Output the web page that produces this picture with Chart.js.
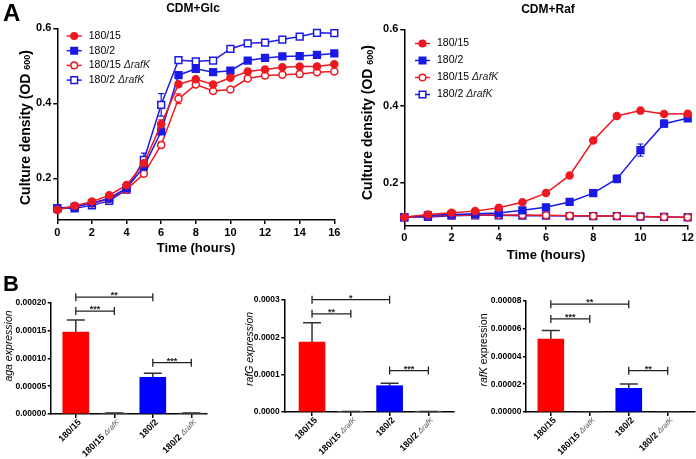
<!DOCTYPE html>
<html>
<head>
<meta charset="utf-8">
<script src="https://cdn.jsdelivr.net/npm/chart.js@4.4.0/dist/chart.umd.min.js"></script>
<style>
    html, body { margin: 0; padding: 0; background: #fff; }
    #wrap { position: relative; width: 696px; height: 459px; overflow: hidden; }
    canvas { position: absolute; left: 0; top: 0; }
</style>
</head>
<body>
<div id="wrap">
    <canvas id="glc" width="696" height="459"></canvas>
    <canvas id="raf" width="696" height="459"></canvas>
    <canvas id="aga" width="696" height="459"></canvas>
    <canvas id="rafG" width="696" height="459"></canvas>
    <canvas id="rafK" width="696" height="459"></canvas>
</div>
<script>
const strains = ['180/15', '180/2', '180/15 ΔrafK', '180/2 ΔrafK']
const barLabels = ['180/15', '180/15 ΔrafK', '180/2', '180/2 ΔrafK']

// growth curves, CDM + glucose (OD600 per hour)
const hoursGlc = [0, 1, 2, 3, 4, 5, 6, 7, 8, 9, 10, 11, 12, 13, 14, 15, 16]
const glc15 = [0.116, 0.127, 0.138, 0.155, 0.182, 0.240, 0.344, 0.451, 0.464, 0.450, 0.468, 0.485, 0.490, 0.496, 0.498, 0.498, 0.504]
const glc2 = [0.120, 0.124, 0.134, 0.147, 0.174, 0.231, 0.325, 0.475, 0.492, 0.483, 0.487, 0.514, 0.521, 0.525, 0.526, 0.529, 0.533]
const glc15d = [0.118, 0.124, 0.133, 0.145, 0.170, 0.212, 0.289, 0.412, 0.450, 0.433, 0.437, 0.466, 0.474, 0.476, 0.478, 0.483, 0.485]
const glc2d = [0.120, 0.120, 0.128, 0.140, 0.170, 0.249, 0.396, 0.515, 0.512, 0.514, 0.545, 0.560, 0.562, 0.570, 0.578, 0.588, 0.587]
const glc15Err = [0.003, 0.002, 0.002, 0.003, 0.003, 0.005, 0.012, 0.005, 0.004, 0.004, 0.004, 0.004, 0.004, 0.003, 0.003, 0.003, 0.004]
const glc2Err = [0.002, 0.002, 0.002, 0.003, 0.003, 0.005, 0.006, 0.004, 0.003, 0.003, 0.003, 0.003, 0.003, 0.003, 0.003, 0.003, 0.003]
const glc15dErr = [0.002, 0.002, 0.002, 0.003, 0.003, 0.005, 0.008, 0.013, 0.004, 0.004, 0.004, 0.005, 0.006, 0.005, 0.008, 0.004, 0.005]
const glc2dErr = [0.003, 0.002, 0.002, 0.003, 0.004, 0.018, 0.030, 0.005, 0.004, 0.005, 0.008, 0.008, 0.004, 0.004, 0.004, 0.004, 0.004]

// growth curves, CDM + raffinose
const hoursRaf = [0, 1, 2, 3, 4, 5, 6, 7, 8, 9, 10, 11, 12]
const raf15 = [0.110, 0.117, 0.122, 0.126, 0.135, 0.149, 0.173, 0.219, 0.310, 0.374, 0.388, 0.379, 0.380]
const raf2 = [0.110, 0.115, 0.117, 0.119, 0.121, 0.128, 0.136, 0.150, 0.173, 0.210, 0.285, 0.354, 0.368]
const raf15d = [0.110, 0.113, 0.115, 0.116, 0.116, 0.116, 0.115, 0.114, 0.113, 0.113, 0.112, 0.111, 0.110]
const raf2d = [0.110, 0.111, 0.114, 0.115, 0.115, 0.114, 0.114, 0.113, 0.113, 0.113, 0.112, 0.111, 0.110]
const raf15Err = [0.002, 0.002, 0.002, 0.002, 0.002, 0.003, 0.003, 0.004, 0.004, 0.004, 0.004, 0.004, 0.004]
const raf2Err = [0.002, 0.002, 0.002, 0.002, 0.002, 0.003, 0.003, 0.003, 0.004, 0.010, 0.016, 0.009, 0.005]
const raf15dErr = [0.002, 0.002, 0.002, 0.002, 0.002, 0.002, 0.002, 0.002, 0.002, 0.002, 0.002, 0.002, 0.002]
const raf2dErr = [0.002, 0.002, 0.002, 0.002, 0.002, 0.002, 0.002, 0.002, 0.002, 0.002, 0.002, 0.002, 0.002]
const odTicks = [0.2, 0.4, 0.6]

// expression (panel B), order as in barLabels
const agaMean = [0.000147, 0.0000015, 0.000066, 0.0000015]
const agaErr = [0.000022, 0.0000005, 0.0000072, 0.0000005]
const agaTicks = [0, 0.00005, 0.0001, 0.00015, 0.0002]
const agaSig = [[0, 1, 0.000185, '***'], [0, 2, 0.00021, '**'], [2, 3, 0.0000923, '***']]

const rafGMean = [0.000187, 0.0000012, 0.0000705, 0.0000012]
const rafGErr = [0.000052, 0.0000004, 0.0000065, 0.0000004]
const rafGTicks = [0, 0.0001, 0.0002, 0.0003]
const rafGSig = [[0, 1, 0.000263, '**'], [0, 2, 0.000301, '*'], [2, 3, 0.000111, '***']]

const rafKMean = [0.0000525, 0, 0.000017, 0]
const rafKErr = [0.000006, 0, 0.0000031, 0]
const rafKTicks = [0, 0.00002, 0.00004, 0.00006, 0.00008]
const rafKSig = [[0, 1, 0.0000669, '***'], [0, 2, 0.0000775, '**'], [2, 3, 0.0000297, '**']]

const RED = 'rgb(238, 24, 32)'
const BLUE = 'rgb(26, 26, 232)'
const lineColors = [RED, BLUE, RED, BLUE]
const markers = ['circle', 'rect', 'circle', 'rect']
const barColors = ['rgb(255, 0, 0)', '#555', 'rgb(0, 0, 255)', '#555']

const FONT = '"Liberation Sans", Arial, Helvetica, sans-serif'
const f = (size, style) => `${style || ''} ${size}px ${FONT}`

// text with mixed fonts: parts = [[text, font, dy, color]]
function rich(ctx, parts, x, y, align) {
    let w = 0
    parts.forEach(p => { ctx.font = p[1]; w += ctx.measureText(p[0]).width })
    let cx = align === 'center' ? x - w / 2 : align === 'right' ? x - w : x
    ctx.textAlign = 'left'
    parts.forEach(p => {
        ctx.font = p[1]
        ctx.fillStyle = p[3] || '#000'
        ctx.fillText(p[0], cx, y + (p[2] || 0))
        cx += ctx.measureText(p[0]).width
    })
}

function strainParts(name, base, ital, color) {
    const i = name.indexOf('Δ')
    if (i < 0) return [[name, base]]
    return [[name.slice(0, i), base], [name.slice(i), ital, 0, color]]
}

const extras = {}

const decoPlugin = {
    id: 'deco',
    beforeDatasetsDraw(chart) {
        const ex = extras[chart.canvas.id]
        if (!ex || !ex.errs) return
        const ctx = chart.ctx, ys = chart.scales.y
        ctx.save()
        ex.errs.forEach((err, d) => {
            const meta = chart.getDatasetMeta(d)
            ctx.strokeStyle = lineColors[d]
            ctx.lineWidth = 1.2
            meta.data.forEach((pt, i) => {
                const v = chart.data.datasets[d].data[i].y
                const y1 = ys.getPixelForValue(v + err[i]), y2 = ys.getPixelForValue(v - err[i])
                ctx.beginPath()
                ctx.moveTo(pt.x, y1); ctx.lineTo(pt.x, y2)
                ctx.moveTo(pt.x - 3, y1); ctx.lineTo(pt.x + 3, y1)
                ctx.moveTo(pt.x - 3, y2); ctx.lineTo(pt.x + 3, y2)
                ctx.stroke()
            })
        })
        ctx.restore()
    },
    afterDraw(chart) {
        const ex = extras[chart.canvas.id]
        if (!ex) return
        const ctx = chart.ctx
        ctx.save()
        ctx.textBaseline = 'middle'
        const xs = chart.scales.x, ys = chart.scales.y

        if (ex.barErr) {
            ctx.strokeStyle = '#333'
            ctx.lineWidth = 1.5
            ex.barErr.forEach((e, i) => {
                if (!e) return
                const x = xs.getPixelForValue(i)
                const y0 = ys.getPixelForValue(ex.mean[i]), y1 = ys.getPixelForValue(ex.mean[i] + e)
                ctx.beginPath()
                ctx.moveTo(x, y0); ctx.lineTo(x, y1)
                ctx.moveTo(x - 9, y1); ctx.lineTo(x + 9, y1)
                ctx.stroke()
            })
        }

        if (ex.sig) {
            ctx.strokeStyle = '#222'
            ctx.lineWidth = 1.3
            ex.sig.forEach(s => {
                const x1 = xs.getPixelForValue(s[0]), x2 = xs.getPixelForValue(s[1])
                const y = ys.getPixelForValue(s[2])
                ctx.beginPath()
                ctx.moveTo(x1, y); ctx.lineTo(x2, y)
                ctx.moveTo(x1, y - 4); ctx.lineTo(x1, y + 4)
                ctx.moveTo(x2, y - 4); ctx.lineTo(x2, y + 4)
                ctx.stroke()
                ctx.textBaseline = 'alphabetic'
                rich(ctx, [[s[3], f(9, 'bold'), 0, '#222']], (x1 + x2) / 2, y + 1, 'center')
                ctx.textBaseline = 'middle'
            })
        }

        if (ex.xLabels) {
            barLabels.forEach((name, i) => {
                const x = xs.getPixelForValue(i)
                ctx.save()
                ctx.translate(x + 4, chart.chartArea.bottom + 7)
                ctx.rotate(-Math.PI / 4)
                rich(ctx, strainParts(name, f(9, 'bold'), f(7.5, 'italic'), '#555'), 0, 0, 'right')
                ctx.restore()
            })
        }

        if (ex.legend) {
            const lg = ex.legend
            chart.data.datasets.forEach((ds, d) => {
                const y = lg.y + d * lg.dy
                const cx = lg.x + 7.5
                ctx.strokeStyle = lineColors[d]
                ctx.lineWidth = 1.5
                ctx.beginPath()
                ctx.moveTo(lg.x, y); ctx.lineTo(lg.x + 15, y)
                ctx.stroke()
                ctx.beginPath()
                if (markers[d] === 'circle') ctx.arc(cx, y, 3.3, 0, Math.PI * 2)
                else ctx.rect(cx - 3.3, y - 3.3, 6.6, 6.6)
                ctx.fillStyle = d < 2 ? lineColors[d] : '#fff'
                ctx.fill()
                ctx.stroke()
                rich(ctx, strainParts(ds.label, f(10.5), f(10.5, 'italic'), '#222'), lg.x + 22, y, 'left')
            })
        }

        (ex.texts || []).forEach(t => {
            ctx.save()
            ctx.translate(t.x, t.y)
            if (t.rot) ctx.rotate(-Math.PI / 2)
            rich(ctx, t.parts, 0, 0, t.align)
            ctx.restore()
        })
        ctx.restore()
    }
}
Chart.register(decoPlugin)

const axisLine = { color: '#000', width: 1.5 }
const axisGrid = { offset: false, drawOnChartArea: false, drawTicks: true, tickLength: 4, color: '#000', lineWidth: 1.5 }

// area = [left, top, right, bottom] of the plot box on the page
function growthChart(id, hours, series, xMax, yMin, area) {
    return new Chart(document.getElementById(id), {
        type: 'line',
        data: {
            datasets: series.map((s, d) => ({
                label: strains[d],
                data: hours.map((h, i) => ({ x: h, y: s[i] })),
                borderColor: lineColors[d],
                backgroundColor: lineColors[d],
                borderWidth: 1.5,
                pointStyle: markers[d],
                pointRadius: markers[d] === 'rect' ? 4.8 : 3.5,
                pointBorderWidth: 1.5,
                pointBackgroundColor: d < 2 ? lineColors[d] : '#fff',
                pointBorderColor: lineColors[d],
                tension: 0,
                clip: false,
            })),
        },
        options: {
            responsive: false,
            animation: false,
            devicePixelRatio: 1,
            layout: { padding: { left: area[0] - 50, top: area[1], right: 696 - area[2], bottom: 459 - area[3] - 22 } },
            plugins: { legend: { display: false }, tooltip: { enabled: false } },
            scales: {
                x: {
                    type: 'linear', min: 0, max: xMax, offset: false,
                    border: axisLine, grid: axisGrid,
                    ticks: { stepSize: 2, autoSkip: false, maxRotation: 0, padding: 2, color: '#000', font: { family: FONT, size: 11, weight: 'bold' } },
                    afterFit: s => { s.height = 22 },
                },
                y: {
                    min: yMin, max: 0.6,
                    border: axisLine, grid: axisGrid,
                    afterBuildTicks: s => { s.ticks = odTicks.map(v => ({ value: v })) },
                    ticks: { padding: 2, color: '#000', font: { family: FONT, size: 11, weight: 'bold' }, callback: v => v.toFixed(1) },
                    afterFit: s => { s.width = 50 },
                },
            },
        },
    })
}

function exprChart(id, mean, yTicks, digits, xMin, xMax, area) {
    return new Chart(document.getElementById(id), {
        type: 'bar',
        data: {
            datasets: [{
                data: mean.map((v, i) => ({ x: i, y: v })),
                backgroundColor: barColors,
                borderColor: barColors,
                borderWidth: 0,
                barThickness: 26,
                clip: false,
            }],
        },
        options: {
            responsive: false,
            animation: false,
            devicePixelRatio: 1,
            layout: { padding: { left: area[0] - 44, top: area[1], right: 696 - area[2], bottom: 459 - area[3] - 8 } },
            plugins: { legend: { display: false }, tooltip: { enabled: false } },
            scales: {
                x: {
                    type: 'linear', min: xMin, max: xMax, offset: false,
                    border: axisLine, grid: axisGrid,
                    afterBuildTicks: s => { s.ticks = barLabels.map((n, i) => ({ value: i })) },
                    ticks: { display: false },
                    afterFit: s => { s.height = 8 },
                },
                y: {
                    min: 0, max: yTicks[yTicks.length - 1],
                    border: axisLine, grid: { ...axisGrid, tickLength: 3 },
                    afterBuildTicks: s => { s.ticks = yTicks.map(v => ({ value: v })) },
                    ticks: { padding: 1.5, color: '#000', font: { family: FONT, size: 8.5, weight: 'bold' }, callback: v => v.toFixed(digits) },
                    afterFit: s => { s.width = 44 },
                },
            },
        },
    })
}

const odTitle = [['Culture density (OD ', f(14, 'bold')], ['600', f(9, 'bold'), 2], [')', f(14, 'bold')]]

extras.glc = {
    errs: [glc15Err, glc2Err, glc15dErr, glc2dErr],
    legend: { x: 66.7, y: 36, dy: 14.7 },
    texts: [
        { parts: [['A', f(24, 'bold')]], x: 3, y: 14, align: 'left' },
        { parts: [['CDM+Glc', f(12, 'bold')]], x: 193, y: 9, align: 'center' },
        { parts: odTitle, x: 26, y: 127.5, align: 'center', rot: true },
        { parts: [['Time (hours)', f(13, 'bold')]], x: 196, y: 248, align: 'center' },
    ],
}
extras.raf = {
    errs: [raf15Err, raf2Err, raf15dErr, raf2dErr],
    legend: { x: 415, y: 43.5, dy: 17 },
    texts: [
        { parts: [['CDM+Raf', f(12, 'bold')]], x: 548, y: 10, align: 'center' },
        { parts: odTitle, x: 368.5, y: 122.5, align: 'center', rot: true },
        { parts: [['Time (hours)', f(13, 'bold')]], x: 546, y: 255, align: 'center' },
    ],
}
extras.aga = {
    mean: agaMean, barErr: agaErr, sig: agaSig, xLabels: true,
    texts: [
        { parts: [['B', f(22, 'bold')]], x: 3, y: 285, align: 'left' },
        { parts: [['aga expression', f(10.5, 'italic')]], x: 9, y: 346, align: 'center', rot: true },
    ],
}
extras.rafG = {
    mean: rafGMean, barErr: rafGErr, sig: rafGSig, xLabels: true,
    texts: [
        { parts: [['rafG expression', f(10.5, 'italic')]], x: 250, y: 349, align: 'center', rot: true },
    ],
}
extras.rafK = {
    mean: rafKMean, barErr: rafKErr, sig: rafKSig, xLabels: true,
    texts: [
        { parts: [['rafK', f(10.5, 'italic')], [' expression', f(10.5)]], x: 484, y: 350, align: 'center', rot: true },
    ],
}

growthChart('glc', hoursGlc, [glc15, glc2, glc15d, glc2d], 16, 0.089, [57.3, 28.3, 334.3, 220])
growthChart('raf', hoursRaf, [raf15, raf2, raf15d, raf2d], 12, 0.088, [404.3, 29.3, 687.7, 225.7])

exprChart('aga', agaMean, agaTicks, 5, -0.652, 3.4, [50.7, 302.7, 206.7, 414])
exprChart('rafG', rafGMean, rafGTicks, 4, -0.715, 3.66, [284.3, 300, 454, 412])
exprChart('rafK', rafKMean, rafKTicks, 5, -0.637, 3.7, [526, 300.7, 695, 412])
</script>
</body>
</html>
